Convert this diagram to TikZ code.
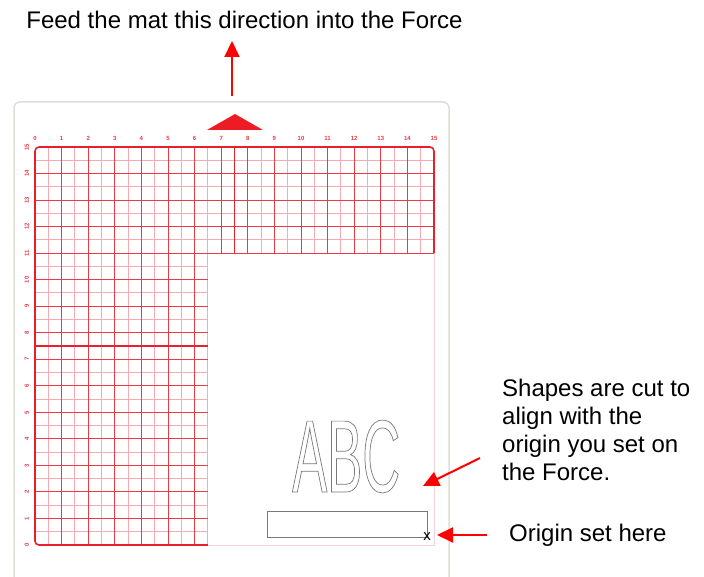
\documentclass[tikz,border=0pt]{standalone}
\usepackage{fontspec}
\setmainfont{Liberation Sans}
\newfontfamily\narrowsans[FakeStretch=0.51]{Liberation Sans}
\usetikzlibrary{arrows.meta}
\definecolor{arrowred}{RGB}{255,0,0}
\definecolor{matred}{RGB}{237,28,36}
\definecolor{gridred}{RGB}{234,58,70}
\definecolor{borderred}{RGB}{232,32,44}
\definecolor{halfred}{RGB}{246,172,178}
\definecolor{edgepink}{RGB}{243,212,214}
\definecolor{matgray}{RGB}{222,221,214}
\definecolor{shapegray}{RGB}{120,120,120}
\begin{document}
\begin{tikzpicture}[x=1pt,y=-1pt,
  lbl/.style={font=\fontsize{24}{27.7}\selectfont, inner sep=0pt, text=black},
  redarrow/.style={draw=arrowred, line width=2pt, -{Triangle[length=16pt,width=15pt]}},
  axislabel/.style={font=\bfseries\fontsize{6}{6}\selectfont, text=gridred, inner sep=0pt},
  halfline/.style={draw=halfred, line width=1pt},
  intline/.style={draw=gridred, line width=0.9pt},
  thickline/.style={draw=borderred, line width=1.8pt},
  borderline/.style={draw=borderred, line width=1.6pt, rounded corners=4pt}]
\useasboundingbox (0,0) rectangle (704,577);
% mat outline
\draw[matgray, line width=1.5pt, rounded corners=6pt] (14,102) rectangle (449,600);
% feed triangle
\fill[matred] (207,130) -- (235,114) -- (263,130) -- cycle;
% grid
\begin{scope}[shift={(35,545)}, x=26.6pt, y=26.53pt]
  \draw[edgepink, line width=0.9pt] (15,11) -- (15,0) -- (6.5,0);
  % half-inch lines
  \foreach \v in {0.5,1.5,...,14.5} \draw[halfline] (\v,11) -- (\v,15);
  \foreach \v in {0.5,1.5,...,6.5} \draw[halfline] (\v,0) -- (\v,11);
  \foreach \h in {11.5,12.5,13.5,14.5} \draw[halfline] (0,\h) -- (15,\h);
  \foreach \h in {0.5,1.5,...,10.5} \draw[halfline] (0,\h) -- (6.5,\h);
  % inch lines
  \foreach \v in {1,...,14} \draw[intline] (\v,11) -- (\v,15);
  \foreach \v in {1,...,6} \draw[intline] (\v,0) -- (\v,11);
  \foreach \h in {12,13,14} \draw[intline] (0,\h) -- (15,\h);
  \foreach \h in {1,...,10} \draw[intline] (0,\h) -- (6.5,\h);
  \draw[intline] (0,11) -- (15,11);
  % centre lines
  \draw[thickline] (7.5,11) -- (7.5,15);
  \draw[thickline] (0,7.5) -- (6.5,7.5);
  % border
  \draw[borderline] (6.5,0) -- (0,0) -- (0,15) -- (15,15) -- (15,11);
  % axis labels
  \foreach \i in {0,...,15} \node[axislabel] at (\i,15.33) {\i};
  \foreach \j in {0,...,15} \node[axislabel, rotate=90] at (-0.31,\j) {\j};
\end{scope}
% shapes
\node[anchor=base west, inner sep=0pt, text=shapegray,
      font=\narrowsans\fontsize{103}{103}\selectfont] (abc) at (292,492)
  {\special{pdf:literal direct 1 Tr 0.7 w}ABC\special{pdf:literal direct 0 Tr}};
\node[draw=shapegray, line width=0.8pt, minimum width=160pt, minimum height=26pt,
      inner sep=0pt, anchor=north west] (originbox) at (267,511) {};
\node[font=\fontsize{15}{15}\selectfont, inner sep=0pt, anchor=base] (xmark) at (427,540) {x};
% texts
\node[lbl, anchor=base] (feed) at (244.5,29) {Feed the mat this direction into the Force};
\node[lbl, anchor=base west, align=left] (shapes) at (502,480)
  {Shapes are cut to\\align with the\\origin you set on\\the Force.};
\node[lbl, anchor=base west] (origin) at (509,541) {Origin set here};
% arrows
\coordinate (feedtail) at (232,96);
\coordinate (feedtip) at (232,41);
\coordinate (shapestail) at (480,458);
\coordinate (shapestip) at (423,486);
\coordinate (origintail) at (487,535);
\coordinate (origintip) at (437,535);
\draw[redarrow] (feedtail) -- (feedtip);
\draw[redarrow] (shapestail) -- (shapestip);
\draw[redarrow] (origintail) -- (origintip);
\end{tikzpicture}
\end{document}
